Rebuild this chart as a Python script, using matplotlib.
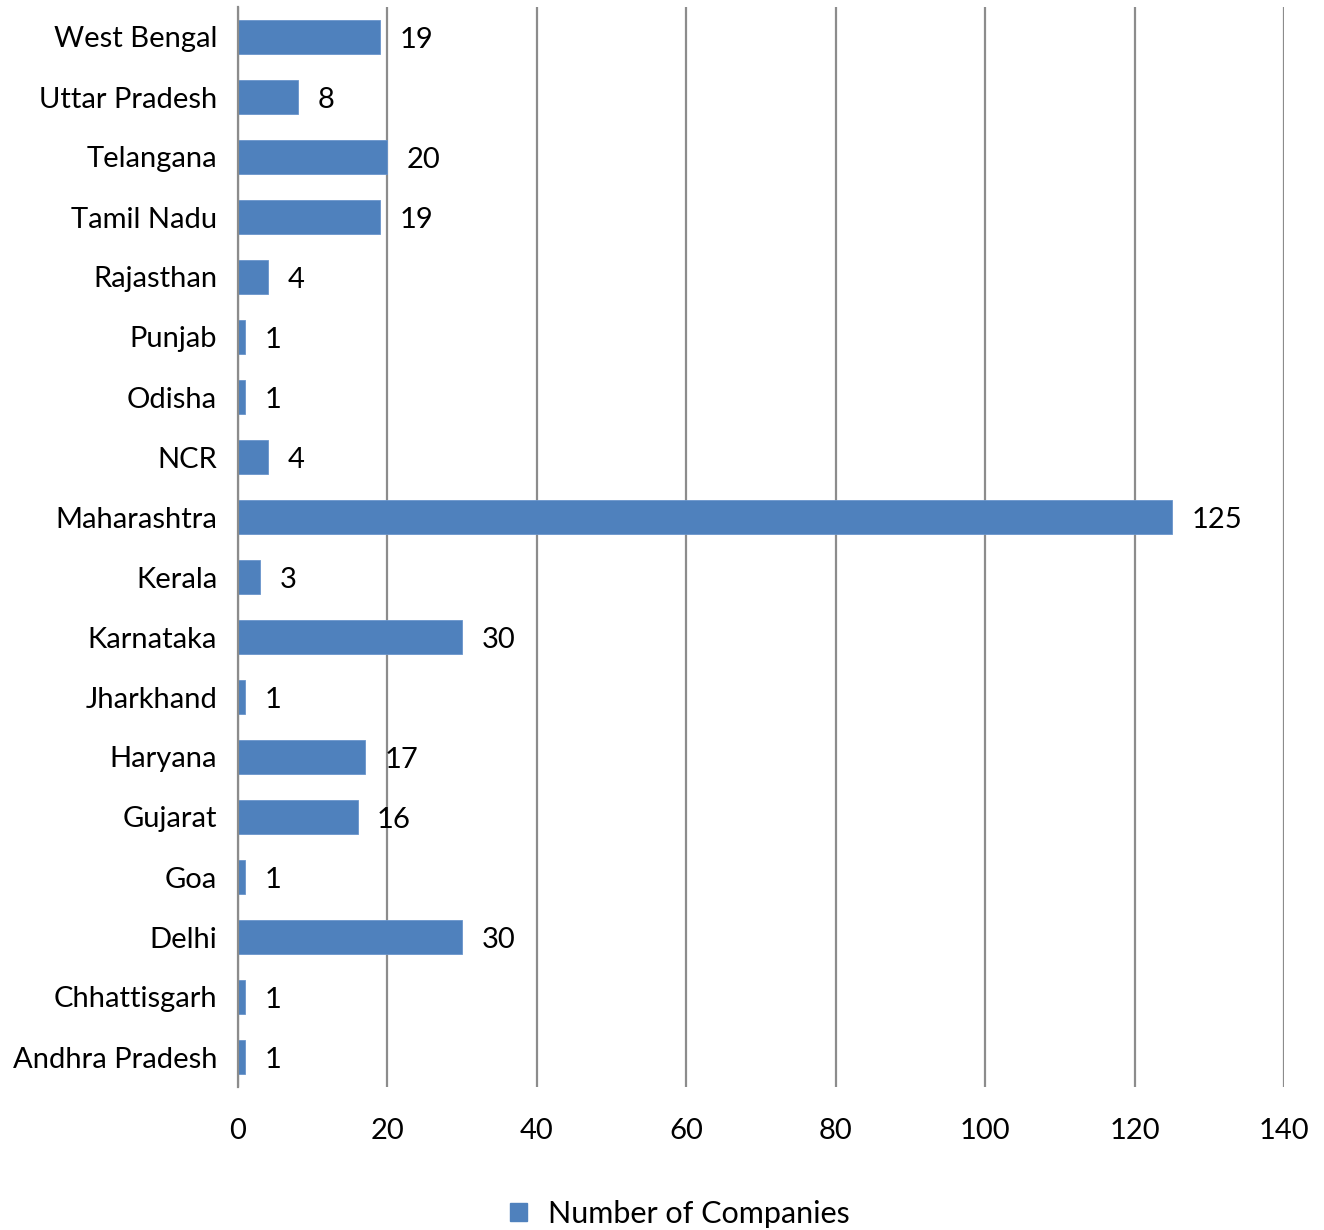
import matplotlib
matplotlib.use("Agg")
import matplotlib.pyplot as plt
from matplotlib.patches import Patch

states = ["West Bengal", "Uttar Pradesh", "Telangana", "Tamil Nadu", "Rajasthan",
          "Punjab", "Odisha", "NCR", "Maharashtra", "Kerala", "Karnataka",
          "Jharkhand", "Haryana", "Gujarat", "Goa", "Delhi", "Chhattisgarh",
          "Andhra Pradesh"]
companies = [19, 8, 20, 19, 4, 1, 1, 4, 125, 3, 30, 1, 17, 16, 1, 30, 1, 1]
x_ticks = [0, 20, 40, 60, 80, 100, 120, 140]
series_name = "Number of Companies"

plt.rcParams['font.family'] = ['Lato', 'DejaVu Sans']
color = "#4F81BD"
grid_color = "#8C8C8C"
fs = 21

fig = plt.figure(figsize=(13.24, 12.3), dpi=100)
ax = fig.add_axes([238/1324, 143/1230, 1046/1324, 1080/1230])

ypos = list(range(len(states)))
ax.barh(ypos, companies, height=0.57, color=color, edgecolor="#6A95CC", linewidth=0.6, zorder=3)
ax.set_ylim(len(states) - 0.5, -0.5)
ax.set_xlim(0, 140)
ax.set_xticks(x_ticks)
ax.set_xticklabels([str(t) for t in x_ticks], fontsize=fs)
ax.set_yticks(ypos)
ax.set_yticklabels(states, fontsize=fs)
ax.tick_params(axis='both', length=0)
ax.tick_params(axis='y', pad=15)
ax.tick_params(axis='x', pad=22)

for s in ['top', 'right', 'bottom']:
    ax.spines[s].set_visible(False)
ax.spines['left'].set_color(grid_color)
ax.spines['left'].set_linewidth(1.6)
ax.spines['left'].set_zorder(4)
ax.xaxis.grid(True, color=grid_color, linewidth=1.6, zorder=0)
ax.set_axisbelow(True)

for y, v in zip(ypos, companies):
    ax.annotate(str(v), xy=(v, y), xytext=(14, -2), textcoords='offset points',
                va='center', ha='left', fontsize=fs)

handle = Patch(facecolor=color, edgecolor=color)
fig.legend([handle], [series_name], loc='center', bbox_to_anchor=(680/1324, 1-1214/1230),
           frameon=False, fontsize=22, handlelength=0.55, handleheight=0.55, handletextpad=0.7)

fig.savefig("out.png", dpi=100)
